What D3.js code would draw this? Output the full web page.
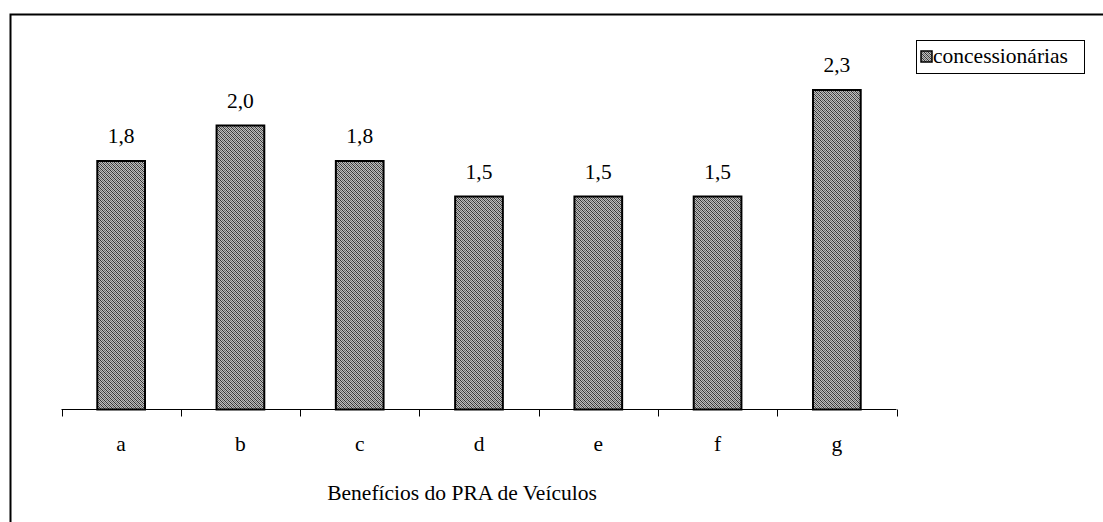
<!DOCTYPE html>
<html><head><meta charset="utf-8">
<script src="https://cdn.jsdelivr.net/npm/d3@7"></script>
<style>
html,body{margin:0;padding:0;background:#fff;}
svg{display:block;}
</style></head>
<body>
<svg id="chart" width="1103" height="522"></svg>
<script>
const categories = ["a","b","c","d","e","f","g"];
const values = [1.75, 2.0, 1.75, 1.5, 1.5, 1.5, 2.25];
const seriesName = "concessionárias";
const axisTitle = "Benefícios do PRA de Veículos";

const FONT = "'Liberation Serif', 'Times New Roman', Times, 'DejaVu Serif', serif";
const svg = d3.select("#chart").style("font-family", FONT);
const fs = 21.5;

const defs = svg.append("defs");
const pat = defs.append("pattern").attr("id","hatch").attr("patternUnits","userSpaceOnUse")
  .attr("width",4).attr("height",4);
pat.append("rect").attr("width",4).attr("height",4).attr("fill","#bdbdbd");
[[0,0],[1,1],[2,2],[3,3],[2,0],[3,1],[0,2],[1,3]].forEach(([x,y],i)=>{
  pat.append("rect").attr("x",x).attr("y",y).attr("width",1).attr("height",1)
    .attr("fill", i<4 ? "#333" : "#6e6e6e");
});

// outer border
svg.append("rect").attr("x",10.5).attr("y",14.5).attr("width",1100).attr("height",520)
  .attr("fill","none").attr("stroke","#000").attr("stroke-width",2);

const x0 = 61.5, x1 = 896.5, y0 = 409.5;
const x = d3.scaleBand().domain(categories).range([x0,x1]).paddingInner(0.6).paddingOuter(0.3);
const y = d3.scaleLinear().domain([0,2.5]).range([y0, 54.5]);
const fmt = v => d3.format(".1f")(v).replace(".", ",");

const g = svg.append("g");
g.selectAll("rect.bar").data(values).join("rect").attr("class","bar")
  .attr("x",(d,i)=>x(categories[i]))
  .attr("y",d=>y(d))
  .attr("width",x.bandwidth())
  .attr("height",d=>y(0)-y(d))
  .attr("fill","url(#hatch)").attr("stroke","#000").attr("stroke-width",2);

g.selectAll("text.val").data(values).join("text").attr("class","val")
  .attr("x",(d,i)=>x(categories[i])+x.bandwidth()/2)
  .attr("y",d=>y(d)-18)
  .attr("text-anchor","middle").attr("font-size",fs).attr("font-family",FONT)
  .text(fmt);

// axis
const step = x.step();
svg.append("line").attr("x1",x0).attr("x2",x1).attr("y1",y0).attr("y2",y0)
  .attr("stroke","#000").attr("stroke-width",1);
const ticks = d3.range(categories.length+1).map(i=>x0+i*step);
svg.selectAll("line.tick").data(ticks).join("line").attr("class","tick")
  .attr("x1",d=>Math.round(d)+0.5).attr("x2",d=>Math.round(d)+0.5)
  .attr("y1",y0).attr("y2",y0+7).attr("stroke","#000").attr("stroke-width",1);
svg.selectAll("text.cat").data(categories).join("text").attr("class","cat")
  .attr("x",d=>x(d)+x.bandwidth()/2).attr("y",451)
  .attr("text-anchor","middle").attr("font-size",fs).attr("font-family",FONT).text(d=>d);

svg.append("text").attr("x",462).attr("y",500).attr("text-anchor","middle")
  .attr("font-size",fs).attr("font-family",FONT).text(axisTitle);

// legend
const lg = svg.append("g");
lg.append("rect").attr("x",916.5).attr("y",40.5).attr("width",168).attr("height",33)
  .attr("fill","#fff").attr("stroke","#000").attr("stroke-width",1);
lg.append("rect").attr("x",921).attr("y",51).attr("width",11).attr("height",11)
  .attr("fill","url(#hatch)").attr("stroke","#000").attr("stroke-width",1.5);
lg.append("text").attr("x",933).attr("y",63).attr("font-size",fs).attr("font-family",FONT).text(seriesName);
</script>
</body></html>
